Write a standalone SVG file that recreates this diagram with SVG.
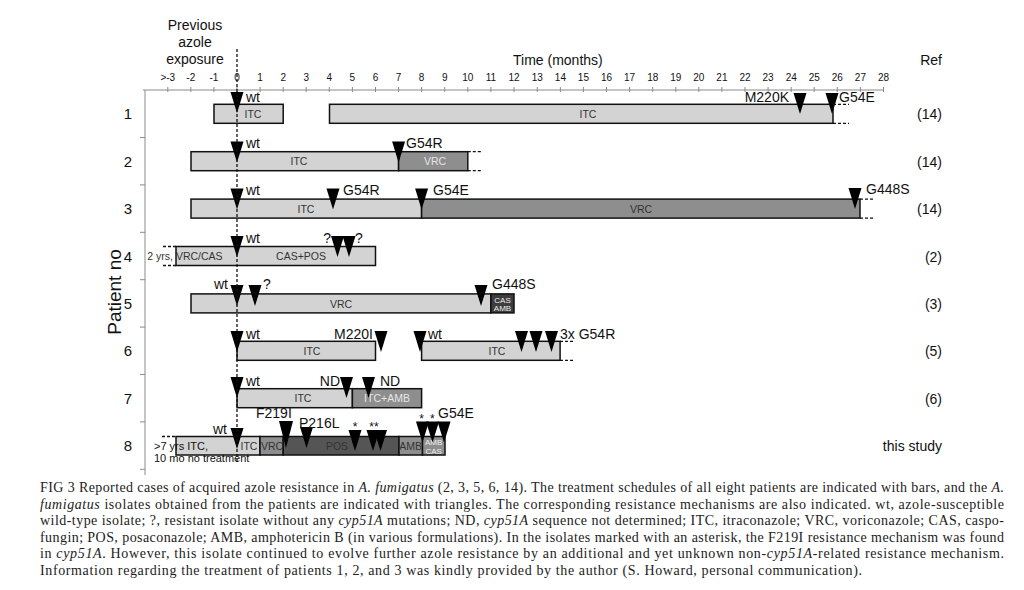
<svg xmlns="http://www.w3.org/2000/svg" width="1024" height="590" viewBox="0 0 1024 590">
<style>
text{font-family:"Liberation Sans",Arial,sans-serif;fill:#111}
.bar{stroke:#111;stroke-width:1.5}
.lt{fill:#d3d3d3}.md{fill:#8e8e8e}.dk{fill:#555}.xd{fill:#3e3e3e}
.lbl{font-size:14px}
.bl{font-size:10.5px;text-anchor:middle;fill:#333}
.blw{font-size:10.5px;text-anchor:middle;fill:#e6e6e6}
.tiny{font-size:8px;text-anchor:middle;fill:#eee}
.dash{stroke:#111;stroke-width:1.3;stroke-dasharray:3 2;fill:none}
.ax{stroke:#8a8a8a;stroke-width:1;fill:none}
.tk{font-size:10px;text-anchor:middle;fill:#222}
.pn{font-size:15px;text-anchor:middle}
.ref{font-size:14px;text-anchor:end}
.cap{font-family:"Liberation Serif","Times New Roman",serif;font-size:14px;fill:#222}
.it{font-style:italic}
</style>
<defs>
<path id="tri" d="M-6.5,0 L6.5,0 L0,21 Z" fill="#000"/>
</defs>
<rect width="1024" height="590" fill="#fff"/>

<g id="axes">
<text x="195" y="30" class="lbl" text-anchor="middle">Previous</text>
<text x="195" y="47" class="lbl" text-anchor="middle">azole</text>
<text x="195" y="64" class="lbl" text-anchor="middle">exposure</text>
<text x="513" y="65" class="lbl">Time (months)</text>
<text x="942" y="65" class="ref">Ref</text>
<line x1="143" y1="90" x2="884" y2="90" class="ax"/>
<line x1="145" y1="90" x2="145" y2="475" class="ax"/>
<path class="ax" d="M167.8,87V92M190.8,87V92M213.9,87V92M237,87V92M260.1,87V92M283.2,87V92M306.2,87V92M329.3,87V92M352.4,87V92M375.5,87V92M398.6,87V92M421.6,87V92M444.7,87V92M467.8,87V92M490.9,87V92M514,87V92M537.3,87V92M560.4,87V92M583.4,87V92M606.5,87V92M629.6,87V92M652.7,87V92M675.8,87V92M698.8,87V92M721.9,87V92M745,87V92M768.1,87V92M791.2,87V92M814.2,87V92M837.3,87V92M860.4,87V92M883.5,87V92"/>
<path class="ax" d="M140,137.5H145M140,184.9H145M140,232.3H145M140,279.7H145M140,327.1H145M140,374.5H145M140,421.9H145M140,469.3H145"/>
<g class="tk">
<text x="167.8" y="81">&gt;-3</text><text x="190.8" y="81">-2</text><text x="213.9" y="81">-1</text><text x="237" y="81">0</text><text x="260.1" y="81">1</text><text x="283.2" y="81">2</text><text x="306.2" y="81">3</text><text x="329.3" y="81">4</text><text x="352.4" y="81">5</text><text x="375.5" y="81">6</text><text x="398.6" y="81">7</text><text x="421.6" y="81">8</text><text x="444.7" y="81">9</text><text x="467.8" y="81">10</text><text x="490.9" y="81">11</text><text x="514" y="81">12</text><text x="537.3" y="81">13</text><text x="560.4" y="81">14</text><text x="583.4" y="81">15</text><text x="606.5" y="81">16</text><text x="629.6" y="81">17</text><text x="652.7" y="81">18</text><text x="675.8" y="81">19</text><text x="698.8" y="81">20</text><text x="721.9" y="81">21</text><text x="745" y="81">22</text><text x="768.1" y="81">23</text><text x="791.2" y="81">24</text><text x="814.2" y="81">25</text><text x="837.3" y="81">26</text><text x="860.4" y="81">27</text><text x="883.5" y="81">28</text>
</g>
<text transform="translate(121,292) rotate(-90)" font-size="19" text-anchor="middle">Patient no</text>
</g>

<g id="p1">
<text x="128" y="119" class="pn">1</text>
<rect x="214" y="104.3" width="69.2" height="19" class="bar lt"/>
<rect x="329.5" y="104.3" width="503.5" height="19" class="bar lt"/>
<text x="253" y="117.5" class="bl">ITC</text>
<text x="588" y="117.5" class="bl">ITC</text>
<use href="#tri" x="237" y="92"/>
<use href="#tri" x="800" y="93"/>
<use href="#tri" x="832" y="93"/>
<text x="246" y="102" class="lbl">wt</text>
<text x="789" y="102" class="lbl" text-anchor="end">M220K</text>
<text x="839" y="102" class="lbl">G54E</text>
<text x="942" y="119" class="ref">(14)</text>
</g>

<g id="p2">
<text x="128" y="166.5" class="pn">2</text>
<rect x="191" y="151.7" width="207.6" height="19" class="bar lt"/>
<rect x="398.6" y="151.7" width="69.2" height="19" class="bar md"/>
<text x="299" y="165" class="bl">ITC</text>
<text x="435" y="165" class="blw">VRC</text>
<use href="#tri" x="237" y="141.5"/>
<use href="#tri" x="398.6" y="141.5"/>
<text x="246" y="148" class="lbl">wt</text>
<text x="406" y="148" class="lbl">G54R</text>
<text x="942" y="166.5" class="ref">(14)</text>
</g>

<g id="p3">
<text x="128" y="214" class="pn">3</text>
<rect x="191" y="199.1" width="230.6" height="19" class="bar lt"/>
<rect x="421.6" y="199.1" width="438.4" height="19" class="bar md"/>
<text x="306" y="212.5" class="bl">ITC</text>
<text x="641" y="212.5" class="bl">VRC</text>
<use href="#tri" x="237" y="188.5"/>
<use href="#tri" x="333" y="188.5"/>
<use href="#tri" x="421.6" y="188.5"/>
<use href="#tri" x="855" y="188"/>
<text x="246" y="195" class="lbl">wt</text>
<text x="343" y="195" class="lbl">G54R</text>
<text x="433" y="195" class="lbl">G54E</text>
<text x="866" y="194" class="lbl">G448S</text>
<text x="942" y="214" class="ref">(14)</text>
</g>

<g id="p4">
<text x="128" y="261.5" class="pn">4</text>
<rect x="176" y="246.5" width="199.5" height="19" class="bar lt"/>
<text x="185" y="260" class="bl">2 yrs, VRC/CAS</text>
<text x="301" y="260" class="bl">CAS+POS</text>
<use href="#tri" x="237" y="236"/>
<use href="#tri" x="337.5" y="236"/>
<use href="#tri" x="349" y="236"/>
<text x="246" y="243" class="lbl">wt</text>
<text x="331" y="243" class="lbl" text-anchor="end">?</text>
<text x="355" y="243" class="lbl">?</text>
<text x="942" y="261.5" class="ref">(2)</text>
</g>

<g id="p5">
<text x="128" y="308.5" class="pn">5</text>
<rect x="191" y="293.9" width="299.9" height="19" class="bar lt"/>
<rect x="490.9" y="293.9" width="23.1" height="19" class="bar xd"/>
<text x="341" y="307.5" class="bl">VRC</text>
<text x="502.5" y="302.5" class="tiny">CAS</text>
<text x="502.5" y="311" class="tiny">AMB</text>
<use href="#tri" x="237" y="285"/>
<use href="#tri" x="255" y="285"/>
<use href="#tri" x="481" y="285"/>
<text x="228" y="289" class="lbl" text-anchor="end">wt</text>
<text x="263" y="289" class="lbl">?</text>
<text x="492" y="289" class="lbl">G448S</text>
<text x="942" y="309" class="ref">(3)</text>
</g>

<g id="p6">
<text x="128" y="356" class="pn">6</text>
<rect x="237" y="341.3" width="138.5" height="19" class="bar lt"/>
<rect x="421.6" y="341.3" width="138.5" height="19" class="bar lt"/>
<text x="312" y="354.5" class="bl">ITC</text>
<text x="497" y="354.5" class="bl">ITC</text>
<use href="#tri" x="237" y="331"/>
<use href="#tri" x="381" y="331"/>
<use href="#tri" x="420" y="331"/>
<use href="#tri" x="521.5" y="331"/>
<use href="#tri" x="536" y="331"/>
<use href="#tri" x="551.5" y="331"/>
<text x="246" y="339" class="lbl">wt</text>
<text x="373" y="339" class="lbl" text-anchor="end">M220I</text>
<text x="428" y="339" class="lbl">wt</text>
<text x="560" y="339" class="lbl">3x G54R</text>
<text x="942" y="356" class="ref">(5)</text>
</g>

<g id="p7">
<text x="128" y="403.5" class="pn">7</text>
<rect x="237" y="388.7" width="115.4" height="19" class="bar lt"/>
<rect x="352.4" y="388.7" width="69.2" height="19" class="bar md"/>
<text x="303" y="402" class="bl">ITC</text>
<text x="387" y="402" class="blw">ITC+AMB</text>
<use href="#tri" x="237" y="377"/>
<use href="#tri" x="346.5" y="377"/>
<use href="#tri" x="368.5" y="377"/>
<text x="246" y="386" class="lbl">wt</text>
<text x="340" y="386" class="lbl" text-anchor="end">ND</text>
<text x="380" y="386" class="lbl">ND</text>
<text x="942" y="403.5" class="ref">(6)</text>
</g>

<g id="p8">
<text x="128" y="451" class="pn">8</text>
<rect x="176" y="436.5" width="84" height="18.5" class="bar lt"/>
<rect x="260" y="436.5" width="23.2" height="18.5" class="bar md"/>
<rect x="283.2" y="436.5" width="115.8" height="18.5" class="bar dk"/>
<rect x="399" y="436.5" width="23.5" height="18.5" class="bar md"/>
<rect x="422.5" y="436.5" width="22.5" height="18.5" class="bar md"/>
<text x="249" y="449.5" class="bl" font-size="11.5">ITC</text>
<text x="272" y="449.5" class="bl" font-size="11">VRC</text>
<text x="337" y="449.5" class="bl" fill="#2a2a2a">POS</text>
<text x="410.7" y="449.5" class="bl" font-size="10">AMB</text>
<text x="433.7" y="445" class="tiny">AMB</text>
<text x="433.7" y="453.5" class="tiny">CAS</text>
<text x="154" y="450" font-size="11">&gt;7 yrs ITC,</text>
<text x="154" y="462" font-size="11">10 mo no treatment</text>
<use href="#tri" x="237" y="428"/>
<path d="M279,421 L293,421 L286,448 Z" fill="#000"/>
<use href="#tri" x="306.5" y="427"/>
<use href="#tri" x="355" y="430"/>
<use href="#tri" x="373" y="430"/>
<use href="#tri" x="380.5" y="430"/>
<use href="#tri" x="422.5" y="421.5"/>
<use href="#tri" x="432.5" y="421.5"/>
<use href="#tri" x="444" y="421.5"/>
<text x="227" y="434" class="lbl" text-anchor="end">wt</text>
<text x="256" y="418" class="lbl">F219I</text>
<text x="299" y="428" class="lbl">P216L</text>
<text x="355" y="431" font-size="12" text-anchor="middle">*</text>
<text x="374" y="431" font-size="12" text-anchor="middle">**</text>
<text x="421.7" y="423" font-size="12" text-anchor="middle">*</text>
<text x="432.3" y="423" font-size="12" text-anchor="middle">*</text>
<text x="438" y="418" class="lbl">G54E</text>
<text x="942" y="451" class="ref">this study</text>
</g>

<g id="connectors">
<line x1="237" y1="49" x2="237" y2="463" class="dash"/>
<path class="dash" d="M833,104.3H849M833,123.3H849M467.8,151.7H482M467.8,170.7H482M860,199.1H874M860,218.1H874M163,246.5H176M163,265.5H176M560,341.3H574M560,360.3H574M162,436.5H176"/>
</g>

<g id="caption">
<text x="40" y="492" class="cap" textLength="964" lengthAdjust="spacing">FIG 3 Reported cases of acquired azole resistance in <tspan class="it">A. fumigatus</tspan> (2, 3, 5, 6, 14). The treatment schedules of all eight patients are indicated with bars, and the <tspan class="it">A.</tspan></text>
<text x="40" y="508.6" class="cap" textLength="964" lengthAdjust="spacing"><tspan class="it">fumigatus</tspan> isolates obtained from the patients are indicated with triangles. The corresponding resistance mechanisms are also indicated. wt, azole-susceptible</text>
<text x="40" y="525.2" class="cap" textLength="964" lengthAdjust="spacing">wild-type isolate; ?, resistant isolate without any <tspan class="it">cyp51A</tspan> mutations; ND, <tspan class="it">cyp51A</tspan> sequence not determined; ITC, itraconazole; VRC, voriconazole; CAS, caspo-</text>
<text x="40" y="541.8" class="cap" textLength="964" lengthAdjust="spacing">fungin; POS, posaconazole; AMB, amphotericin B (in various formulations). In the isolates marked with an asterisk, the F219I resistance mechanism was found</text>
<text x="40" y="558.4" class="cap" textLength="964" lengthAdjust="spacing">in <tspan class="it">cyp51A</tspan>. However, this isolate continued to evolve further azole resistance by an additional and yet unknown non-<tspan class="it">cyp51A</tspan>-related resistance mechanism.</text>
<text x="40" y="575" class="cap" textLength="822" lengthAdjust="spacing">Information regarding the treatment of patients 1, 2, and 3 was kindly provided by the author (S. Howard, personal communication).</text>
</g>
</svg>
